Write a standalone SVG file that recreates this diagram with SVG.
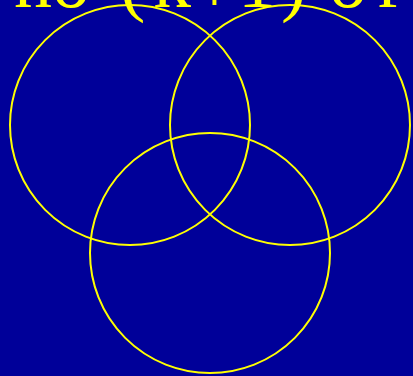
<svg xmlns="http://www.w3.org/2000/svg" width="413" height="376" viewBox="0 0 413 376">
<style>
.c{fill:none;stroke:#ffff00;stroke-width:2}
.t{font-family:"Liberation Serif","Times New Roman",serif;font-size:76px;fill:#ffff00}
</style>
<rect width="413" height="376" fill="#000099"/>
<text class="t" y="7 7 7 7 7 12 7 7 7 7 7" x="14 52 90 120 153 193 238 281 310 329 378">no (k+1) or</text>
<g id="setA"><circle class="c" cx="130" cy="125" r="120"/></g>
<g id="setB"><circle class="c" cx="290" cy="125" r="120"/></g>
<g id="setC"><circle class="c" cx="210" cy="253" r="120"/></g>
</svg>
